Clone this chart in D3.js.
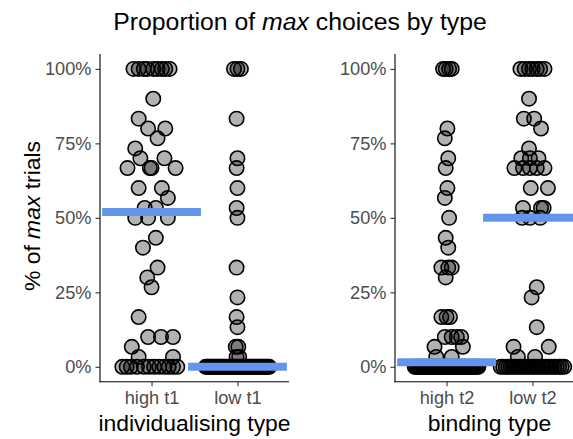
<!DOCTYPE html>
<html>
<head>
<meta charset="utf-8">
<script src="https://cdn.jsdelivr.net/npm/d3@7"></script>
<style>
  html, body { margin: 0; padding: 0; background: #fff; }
  svg { display: block; font-family: "Liberation Sans", Arial, Helvetica, sans-serif; }
</style>
</head>
<body>
<svg id="chart" width="573" height="439"></svg>
<script>
// Facets and their categories
const facetTitles = ["individualising type", "binding type"];
const individualisingTypes = ["high t1", "low t1"];
const bindingTypes = ["high t2", "low t2"];

// y-axis ticks
const yTickValues = [0, 0.25, 0.5, 0.75, 1];
const yTickLabels = ["0%", "25%", "50%", "75%", "100%"];

// Proportion of max choices per participant, and horizontal jitter
// (fraction of the category step). Points past the end of an offsets list
// belong to the crowded 0% run and are spread evenly across the jitter width.
const highT1Scores = [
  1, 1, 1, 1, 1, 1, 1, 1, 1,
  0.9, 0.833, 0.8, 0.8, 0.767, 0.733, 0.7, 0.7,
  0.667, 0.667, 0.667, 0.667, 0.6, 0.6, 0.567, 0.533, 0.533,
  0.5, 0.5, 0.5, 0.433, 0.4, 0.333, 0.3, 0.267, 0.167,
  0.1, 0.1, 0.1, 0.067, 0.033, 0.033,
  0, 0, 0, 0, 0, 0, 0, 0, 0, 0, 0, 0
];
const highT1Offsets = [
  -0.21, -0.15, -0.09, -0.05, 0.02, 0.07, 0.12, 0.16, 0.21,
  0.02, -0.15, -0.04, 0.16, 0.07, -0.19, -0.13, 0.15,
  -0.28, -0.02, 0.0, 0.28, -0.15, 0.12, 0.19, -0.08, 0.05,
  -0.19, -0.04, 0.19, 0.05, -0.10, 0.07, -0.05, 0.0, -0.15,
  -0.04, 0.11, 0.25, -0.23, -0.15, 0.25,
  -0.34, -0.29, -0.24, -0.17, -0.09, -0.03, 0.03, 0.09, 0.15, 0.2, 0.25, 0.3
];

const lowT1Scores = [
  1, 1, 1, 0.833, 0.7, 0.667, 0.6, 0.533, 0.5, 0.333, 0.233, 0.167, 0.133,
  0.067, 0.067, 0.033, 0.033,
  0, 0, 0, 0, 0, 0, 0, 0, 0, 0, 0, 0, 0, 0, 0, 0, 0, 0, 0, 0,
  0, 0, 0, 0, 0, 0, 0, 0, 0, 0, 0, 0, 0, 0, 0, 0, 0, 0, 0, 0,
  0, 0, 0, 0, 0, 0, 0, 0, 0, 0
];
const lowT1Offsets = [
  -0.04, 0.0, 0.04, -0.01, 0.0, -0.01, 0.0, -0.01, 0.0, -0.01, 0.0, -0.01, 0.0,
  -0.02, 0.01, -0.01, 0.02
];

const highT2Scores = [
  1, 1, 1, 1, 0.8, 0.767, 0.7, 0.667, 0.6, 0.567, 0.5, 0.433, 0.4,
  0.333, 0.333, 0.333, 0.3, 0.167, 0.167, 0.167,
  0.1, 0.1, 0.1, 0.1, 0.067, 0.067, 0.033, 0.033,
  0, 0, 0, 0, 0, 0, 0, 0, 0, 0, 0, 0, 0, 0, 0, 0, 0, 0, 0, 0,
  0, 0, 0, 0, 0, 0, 0, 0, 0, 0, 0, 0, 0, 0, 0, 0, 0, 0, 0, 0,
  0, 0, 0, 0, 0, 0, 0, 0, 0, 0
];
const highT2Offsets = [
  -0.04, -0.01, 0.03, 0.06, 0.01, -0.02, 0.02, -0.01, 0.01, -0.02, 0.03, -0.01, 0.02,
  -0.06, 0.02, 0.06, -0.01, -0.06, 0.0, 0.04,
  -0.02, 0.06, 0.12, 0.17, -0.14, 0.19, -0.12, 0.06
];

const lowT2Scores = [
  1, 1, 1, 1, 1, 1, 1,
  0.9, 0.833, 0.833, 0.8, 0.733, 0.7, 0.7, 0.7,
  0.667, 0.667, 0.667, 0.667, 0.667, 0.6, 0.6,
  0.533, 0.533, 0.533, 0.5, 0.5, 0.5,
  0.267, 0.233, 0.133, 0.067, 0.067, 0.033, 0.033,
  0, 0, 0, 0, 0, 0, 0, 0, 0, 0, 0, 0, 0, 0, 0, 0, 0, 0, 0, 0,
  0, 0, 0, 0, 0, 0
];
const lowT2Offsets = [
  -0.14, -0.09, -0.04, 0.0, 0.05, 0.09, 0.14,
  -0.04, -0.1, 0.02, 0.1, -0.04, -0.13, -0.03, 0.07,
  -0.21, -0.11, -0.03, 0.05, 0.14, -0.02, 0.18,
  -0.11, 0.1, 0.13, -0.12, -0.03, 0.09,
  0.05, -0.01, 0.05, -0.22, 0.19, -0.17, 0.03
];

// Summary line per category (high t1, low t1, high t2, low t2)
const summaryScores = [0.52, 0.0, 0.015, 0.5];

// ---------------------------------------------------------------------------
const facets = [
  {
    title: facetTitles[0],
    categories: individualisingTypes,
    groups: [
      { scores: highT1Scores, offsets: highT1Offsets, summary: summaryScores[0] },
      { scores: lowT1Scores, offsets: lowT1Offsets, summary: summaryScores[1] }
    ],
    left: 100
  },
  {
    title: facetTitles[1],
    categories: bindingTypes,
    groups: [
      { scores: highT2Scores, offsets: highT2Offsets, summary: summaryScores[2] },
      { scores: lowT2Scores, offsets: lowT2Offsets, summary: summaryScores[3] }
    ],
    left: 395
  }
];

const svg = d3.select("#chart");
const panelWidth = 189;
const panelTop = 54, panelBottom = 381.7;
const floorSpread = 0.37;       // half-width of the 0% run, in category steps
const summaryHalfWidth = 0.575; // half-width of the summary bar, in category steps

const y = d3.scaleLinear().domain([-0.05, 1.05]).range([panelBottom, panelTop]);

const textColor = "#4d4d4d";

facets.forEach(facet => {
  const x = d3.scalePoint()
    .domain(facet.categories)
    .range([facet.left, facet.left + panelWidth])
    .padding(0.6);
  const step = x.step();

  const g = svg.append("g");

  // points
  facet.groups.forEach((grp, gi) => {
    const cat = facet.categories[gi];
    const nFixed = grp.offsets.length;
    const nFloor = grp.scores.length - nFixed;
    const pts = grp.scores.map((v, i) => {
      let off;
      if (i < nFixed) off = grp.offsets[i];
      else {
        const k = i - nFixed;
        off = nFloor > 1 ? -floorSpread + (2 * floorSpread * k) / (nFloor - 1) : 0;
      }
      return { v, off };
    });
    g.append("g").selectAll("circle")
      .data(pts)
      .join("circle")
      .attr("cx", d => x(cat) + d.off * step)
      .attr("cy", d => y(d.v))
      .attr("r", 7.2)
      .attr("fill", "#000")
      .attr("fill-opacity", 0.3)
      .attr("stroke", "#000")
      .attr("stroke-width", 1.6);
  });

  // summary bars
  g.append("g").selectAll("line")
    .data(facet.groups.map((grp, gi) => ({ cat: facet.categories[gi], v: grp.summary })))
    .join("line")
    .attr("x1", d => x(d.cat) - summaryHalfWidth * step)
    .attr("x2", d => x(d.cat) + summaryHalfWidth * step)
    .attr("y1", d => y(d.v))
    .attr("y2", d => y(d.v))
    .attr("stroke", "#6495ED")
    .attr("stroke-width", 8);

  // y axis
  const yAxis = d3.axisLeft(y)
    .tickValues(yTickValues)
    .tickFormat((d, i) => yTickLabels[i])
    .tickSizeInner(4.5)
    .tickSizeOuter(0)
    .tickPadding(4);
  const ya = svg.append("g")
    .attr("transform", `translate(${facet.left},0)`)
    .call(yAxis);

  // x axis
  const xAxis = d3.axisBottom(x).tickSizeInner(4.5).tickSizeOuter(0).tickPadding(5);
  const xa = svg.append("g")
    .attr("transform", `translate(0,${panelBottom})`)
    .call(xAxis);

  [ya, xa].forEach(a => {
    a.select(".domain").attr("stroke", "#000").attr("stroke-width", 1.1);
    a.selectAll(".tick line").attr("stroke", "#333").attr("stroke-width", 1.1);
    a.selectAll(".tick text")
      .attr("fill", textColor)
      .attr("font-size", 18.2)
      .attr("font-family", "Liberation Sans, Arial, sans-serif");
  });
  // close the corner where the axes meet
  ya.select(".domain").attr("d", `M0,${panelTop}V${panelBottom + 0.55}`);
  xa.select(".domain").attr("d", `M${facet.left - 0.55},0H${facet.left + panelWidth}`);

  // facet axis title
  svg.append("text")
    .attr("x", facet.left + panelWidth / 2)
    .attr("y", 431)
    .attr("text-anchor", "middle")
    .attr("font-size", 22.9)
    .attr("fill", "#000")
    .text(facet.title);
});

// y-axis title
const yTitle = svg.append("text")
  .attr("transform", "translate(40,216) rotate(-90)")
  .attr("text-anchor", "middle")
  .attr("font-size", 22.9)
  .attr("fill", "#000");
yTitle.append("tspan").text("% of ");
yTitle.append("tspan").attr("font-style", "italic").text("max");
yTitle.append("tspan").text(" trials");

// plot title
const title = svg.append("text")
  .attr("x", 300)
  .attr("y", 30)
  .attr("text-anchor", "middle")
  .attr("font-size", 24.8)
  .attr("fill", "#000");
title.append("tspan").text("Proportion of ");
title.append("tspan").attr("font-style", "italic").text("max");
title.append("tspan").text(" choices by type");
</script>
</body>
</html>
